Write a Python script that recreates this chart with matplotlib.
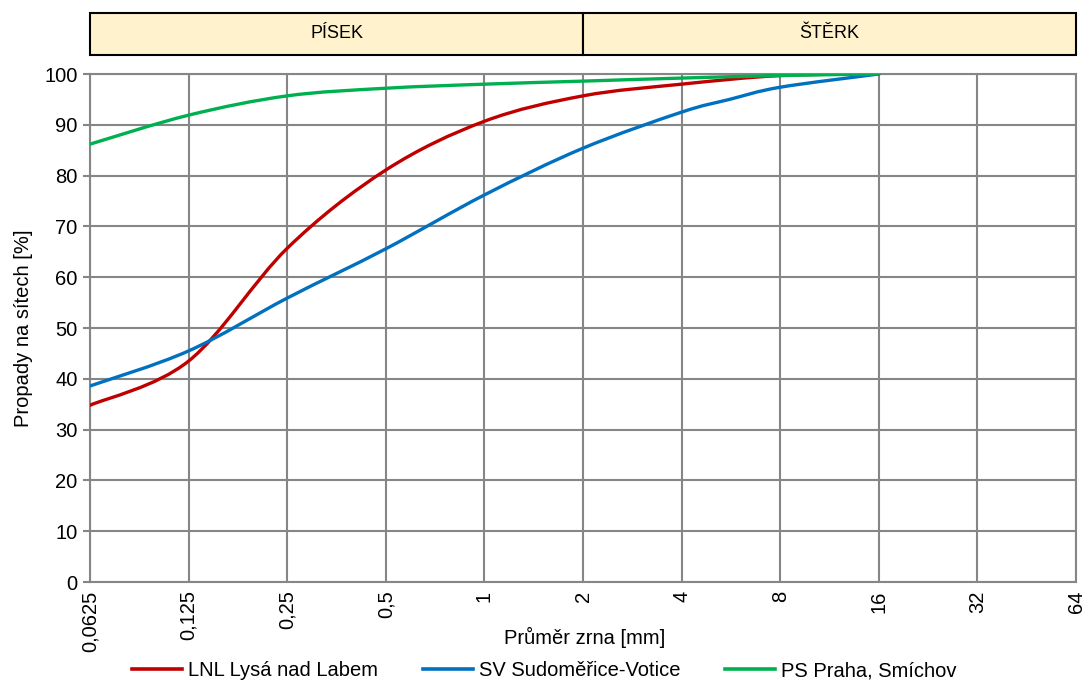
import numpy as np
import matplotlib
matplotlib.use("Agg")
import matplotlib.pyplot as plt
from matplotlib.path import Path
from matplotlib.patches import PathPatch, Rectangle
from matplotlib.lines import Line2D
from matplotlib.ticker import FixedLocator, FixedFormatter, NullLocator

plt.rcParams['font.family'] = ['Liberation Sans', 'DejaVu Sans']

# Sieve sizes [mm] and passing percentages
sieve_lnl = [0.0625, 0.125, 0.25, 0.5, 1, 2, 4, 8, 16]
pass_lnl = [34.8, 43.5, 65.7, 81.1, 90.7, 95.7, 98.0, 99.7, 100.0]

sieve_sv = [0.0625, 0.125, 0.25, 0.5, 1, 2, 4, 5.6, 8, 16]
pass_sv = [38.6, 45.5, 55.9, 65.6, 76.2, 85.4, 92.5, 95.0, 97.4, 100.0]

sieve_ps = [0.0625, 0.125, 0.25, 0.5, 1, 2, 4, 8, 16]
pass_ps = [86.2, 91.9, 95.7, 97.2, 98.0, 98.6, 99.2, 99.7, 100.0]

series_names = ["LNL Lysá nad Labem", "SV Sudoměřice-Votice", "PS Praha, Smíchov"]
series_colors = ["#C00000", "#0070C0", "#00B050"]

x_ticks = [0.0625, 0.125, 0.25, 0.5, 1, 2, 4, 8, 16, 32, 64]
x_tick_labels = ["0,0625", "0,125", "0,25", "0,5", "1", "2", "4", "8", "16", "32", "64"]
y_ticks = list(range(0, 101, 10))

zones = ["PÍSEK", "ŠTĚRK"]
zone_edges = [0.0625, 2, 64]

FS = 14.5


def smooth_path(xs, ys):
    """Cubic Bezier path through the points, smoothed in log2(x) space."""
    lx = np.log2(np.asarray(xs, float))
    y = np.asarray(ys, float)
    n = len(lx)
    verts = [(xs[0], ys[0])]
    codes = [Path.MOVETO]
    for i in range(n - 1):
        i0 = max(i - 1, 0)
        i3 = min(i + 2, n - 1)
        c1x = lx[i] + (lx[i + 1] - lx[i0]) / 6
        c1y = y[i] + (y[i + 1] - y[i0]) / 6
        c2x = lx[i + 1] - (lx[i3] - lx[i]) / 6
        c2y = y[i + 1] - (y[i3] - y[i]) / 6
        verts += [(2 ** c1x, c1y), (2 ** c2x, c2y), (xs[i + 1], ys[i + 1])]
        codes += [Path.CURVE4] * 3
    return Path(verts, codes)


fig = plt.figure(figsize=(10.91, 6.84), dpi=100)
ax = fig.add_axes([0.0825, 0.149, 0.9038, 0.7428])

ax.set_xscale('log', base=2)
ax.set_xlim(0.0625, 64)
ax.set_ylim(0, 100)

grid_c = "#868686"
ax.xaxis.set_major_locator(FixedLocator(x_ticks))
ax.xaxis.set_major_formatter(FixedFormatter(x_tick_labels))
ax.xaxis.set_minor_locator(NullLocator())
ax.tick_params(axis='x', labelrotation=90, labelsize=FS, length=0, pad=6)
ax.set_yticks(y_ticks)
ax.set_yticklabels([str(v) for v in y_ticks])
ax.tick_params(axis='y', labelsize=FS, length=5, width=1.5, color=grid_c, pad=4)
ax.grid(True, color=grid_c, linewidth=1.5)
ax.set_axisbelow(True)
for s in ax.spines.values():
    s.set_color(grid_c)
    s.set_linewidth(1.5)

for xs, ys, col in zip([sieve_lnl, sieve_sv, sieve_ps],
                       [pass_lnl, pass_sv, pass_ps], series_colors):
    ax.add_patch(PathPatch(smooth_path(xs, ys), fill=False, edgecolor=col,
                           linewidth=2.4, capstyle='round', joinstyle='round',
                           zorder=3))

# Axis titles
fig.text(585 / 1091, 1 - 637 / 684, "Průměr zrna [mm]", fontsize=FS,
         ha='center', va='center')
ax.set_ylabel("Propady na sítech [%]", fontsize=FS, labelpad=8)

# Fraction band above the chart
band = fig.add_axes([0.0825, 0.9196, 0.9038, 0.0614])
band.set_xscale('log', base=2)
band.set_xlim(0.0625, 64)
band.set_ylim(0, 1)
band.axis('off')
for name, a, b in zip(zones, zone_edges[:-1], zone_edges[1:]):
    band.add_patch(Rectangle((a, 0), b - a, 1, facecolor="#FFF2CC",
                             edgecolor="black", linewidth=1.5,
                             clip_on=False))
    band.text(np.sqrt(a * b), 0.5, name, ha='center', va='center',
              fontsize=13)

handles = [Line2D([0], [0], color=c, linewidth=2.6) for c in series_colors]
fig.legend(handles, series_names, loc='center', ncol=3,
           bbox_to_anchor=(0.499, 1 - 671 / 684), frameon=False, fontsize=FS,
           handlelength=2.5, handletextpad=0.3, columnspacing=2.2,
           borderaxespad=0, borderpad=0)

fig.savefig("out.png", dpi=100)
